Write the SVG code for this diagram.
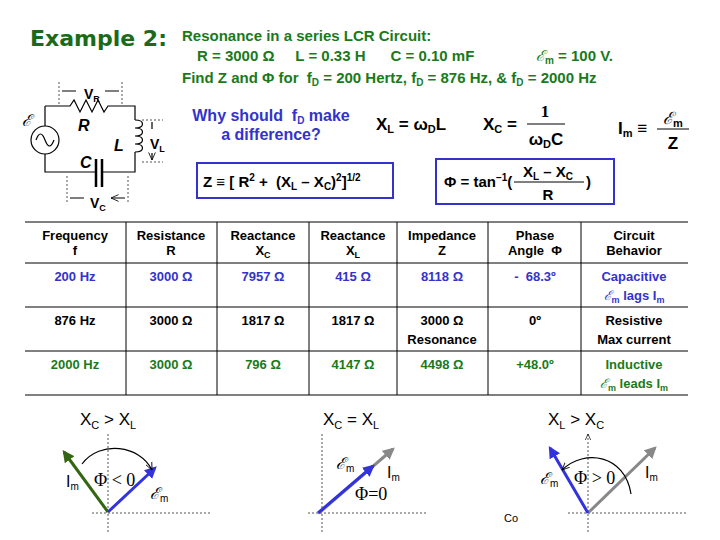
<svg xmlns="http://www.w3.org/2000/svg" width="720" height="540" viewBox="0 0 720 540">
<style>
text{font-family:"Liberation Sans",Arial,sans-serif;font-weight:bold}
.t{font-size:13px;text-anchor:middle}
.b{fill:#3333cc}.g{fill:#1a7a1a}.k{fill:#000}
.ln{stroke:#000;stroke-width:1.2;fill:none}
.d{stroke:#555;stroke-width:1;stroke-dasharray:2,2;fill:none}
.sc{font-family:"DejaVu Serif",serif;font-style:italic;font-weight:normal}
.n{font-weight:normal}
</style>
<defs>
<marker id="ab" viewBox="0 0 10 10" refX="8" refY="5" markerWidth="4" markerHeight="4" orient="auto"><path d="M0,0L10,5L0,10z" fill="#3333dd"/></marker>
<marker id="ag" viewBox="0 0 10 10" refX="8" refY="5" markerWidth="4" markerHeight="4" orient="auto"><path d="M0,0L10,5L0,10z" fill="#336611"/></marker>
<marker id="ay" viewBox="0 0 10 10" refX="8" refY="5" markerWidth="4" markerHeight="4" orient="auto"><path d="M0,0L10,5L0,10z" fill="#888"/></marker>
<marker id="ao" viewBox="0 0 10 10" refX="9" refY="5" markerWidth="7" markerHeight="7" orient="auto"><path d="M0,1L9,5L0,9" fill="none" stroke="#000"/></marker>
</defs>
<rect width="720" height="540" fill="#fff"/>
<text x="30" y="46" font-size="22" fill="#1a6a1a" style="font-family:'DejaVu Sans',sans-serif">Example 2:</text>
<g id="header">
<text x="182" y="41" class="g" font-size="15">Resonance in a series LCR Circuit:</text>
<text x="197" y="61" class="g" font-size="15" xml:space="preserve">R = 3000 Ω     L = 0.33 H      C = 0.10 mF</text>
<text x="536" y="61" class="g" font-size="15"><tspan class="sc">ℰ</tspan><tspan font-size="10" dy="3">m</tspan><tspan dy="-3"> = 100 V.</tspan></text>
<text x="182" y="83" class="g" font-size="15" xml:space="preserve">Find Z and Φ for  f<tspan font-size="10" dy="3">D</tspan><tspan dy="-3"> = 200 Hertz, f</tspan><tspan font-size="10" dy="3">D</tspan><tspan dy="-3"> = 876 Hz, &amp; f</tspan><tspan font-size="10" dy="3">D</tspan><tspan dy="-3"> = 2000 Hz</tspan></text>
</g>
<g id="circuit">
<path class="ln" d="M45,106H70l4,-6l6,12l6,-12l6,12l6,-12l6,12l4,-6H135V120M135,152V172H103M95,172H45V154M45,126V106"/>
<path class="ln" d="M135,120c10,0 10,8 0,8c10,0 10,8 0,8c10,0 10,8 0,8c10,0 10,8 0,8"/>
<circle class="ln" cx="45" cy="140" r="14"/>
<path class="ln" d="M36,140c3,-8 6,-8 9,0s6,8 9,0"/>
<path stroke="#000" stroke-width="2.5" d="M96,159V187M102,159V187"/>
<path class="d" d="M59,82V104M122,82V104M67,176V202M128,176V202M142,120H163M142,162H163"/>
<path class="ln" d="M62,91H76M119,91H105M70,198H84M125,198H111" marker-end="url(#ao)" stroke-width="0.8"/>
<path class="ln" d="M152,129V122M152,153V160" marker-end="url(#ao)" stroke-width="0.8"/>
<text x="84" y="99" font-size="14">V<tspan font-size="9" dy="3">R</tspan></text>
<text x="78" y="131" font-size="16" font-style="italic">R</text>
<text x="114" y="151" font-size="16" font-style="italic">L</text>
<text x="80" y="168" font-size="16" font-style="italic">C</text>
<text x="150" y="149" font-size="14">V<tspan font-size="9" dy="3">L</tspan></text>
<text x="90" y="208" font-size="14">V<tspan font-size="9" dy="3">C</tspan></text>
<text x="22" y="126" font-size="16" class="sc">ℰ</text>
</g>
<g id="formulas">
<text x="271" y="121" font-size="16" class="b" text-anchor="middle" xml:space="preserve">Why should  f<tspan font-size="10" dy="3">D</tspan><tspan dy="-3"> make</tspan></text>
<text x="271" y="140" font-size="16" class="b" text-anchor="middle">a difference?</text>
<text x="376" y="130" font-size="17">X<tspan font-size="11" dy="3">L</tspan><tspan dy="-3"> = ω</tspan><tspan font-size="11" dy="3">D</tspan><tspan dy="-3">L</tspan></text>
<text x="483" y="130" font-size="17">X<tspan font-size="11" dy="3">C</tspan><tspan dy="-3"> =</tspan></text>
<text x="545" y="117" font-size="17" text-anchor="middle" style="font-family:'Liberation Serif',serif">1</text>
<path stroke="#000" d="M527,124H565"/>
<text x="546" y="145" font-size="17" text-anchor="middle">ω<tspan font-size="11" dy="3">D</tspan><tspan dy="-3">C</tspan></text>
<text x="618" y="134" font-size="17">I<tspan font-size="11" dy="3">m</tspan><tspan dy="-3"> ≡</tspan></text>
<text x="673" y="124" font-size="17" text-anchor="middle"><tspan class="sc">ℰ</tspan><tspan font-size="11" dy="3">m</tspan></text>
<path stroke="#000" d="M657,129H689"/>
<text x="673" y="149" font-size="17" text-anchor="middle">Z</text>
<rect x="197" y="163" width="196" height="35" fill="none" stroke="#3333cc" stroke-width="2"/>
<text x="203" y="187" font-size="15" xml:space="preserve">Z ≡ [ R<tspan font-size="10" dy="-6">2</tspan><tspan dy="6"> +  (X</tspan><tspan font-size="10" dy="3">L</tspan><tspan dy="-3"> – X</tspan><tspan font-size="10" dy="3">C</tspan><tspan dy="-3">)</tspan><tspan font-size="10" dy="-6">2</tspan><tspan dy="6">]</tspan><tspan font-size="10" dy="-6">1/2</tspan></text>
<rect x="436" y="159" width="178" height="45" fill="none" stroke="#3333cc" stroke-width="2"/>
<text x="444" y="187" font-size="15">Φ = tan<tspan font-size="10" dy="-6">−1</tspan><tspan dy="6">(</tspan></text>
<text x="548" y="177" font-size="15" text-anchor="middle">X<tspan font-size="10" dy="3">L</tspan><tspan dy="-3"> – X</tspan><tspan font-size="10" dy="3">C</tspan></text>
<path stroke="#000" d="M514,182H584"/>
<text x="548" y="200" font-size="15" text-anchor="middle">R</text>
<text x="586" y="187" font-size="15">)</text>
</g>
<g id="table" class="t">
<path stroke="#000" stroke-width="1" fill="none" d="M25,222H688M25,263H688M25,307H688M25,351H688M25,395H688M126,222V395M217,222V395M309,222V395M397,222V395M488,222V395M581,222V395"/>
<g class="k">
<text x="75" y="240">Frequency</text><text x="75" y="255">f</text>
<text x="171" y="240">Resistance</text><text x="171" y="255">R</text>
<text x="263" y="240">Reactance</text><text x="263" y="255">X<tspan font-size="9" dy="3">C</tspan></text>
<text x="353" y="240">Reactance</text><text x="353" y="255">X<tspan font-size="9" dy="3">L</tspan></text>
<text x="442" y="240">Impedance</text><text x="442" y="255">Z</text>
<text x="535" y="240">Phase</text><text x="535" y="255" xml:space="preserve">Angle  Φ</text>
<text x="634" y="240">Circuit</text><text x="634" y="255">Behavior</text>
</g>
<g class="b">
<text x="75" y="281">200 Hz</text><text x="171" y="281">3000 Ω</text><text x="263" y="281">7957 Ω</text><text x="353" y="281">415 Ω</text><text x="442" y="281">8118 Ω</text><text x="535" y="281" xml:space="preserve">-  68.3º</text><text x="634" y="281">Capacitive</text>
<text x="634" y="300"><tspan class="sc">ℰ</tspan><tspan font-size="9" dy="3">m</tspan><tspan dy="-3"> lags I</tspan><tspan font-size="9" dy="3">m</tspan></text>
</g>
<g class="k">
<text x="75" y="325">876 Hz</text><text x="171" y="325">3000 Ω</text><text x="263" y="325">1817 Ω</text><text x="353" y="325">1817 Ω</text><text x="442" y="325">3000 Ω</text><text x="442" y="344">Resonance</text><text x="535" y="325">0º</text><text x="634" y="325">Resistive</text><text x="634" y="344">Max current</text>
</g>
<g class="g">
<text x="75" y="369">2000 Hz</text><text x="171" y="369">3000 Ω</text><text x="263" y="369">796 Ω</text><text x="353" y="369">4147 Ω</text><text x="442" y="369">4498 Ω</text><text x="535" y="369">+48.0º</text><text x="634" y="369">Inductive</text>
<text x="634" y="388"><tspan class="sc">ℰ</tspan><tspan font-size="9" dy="3">m</tspan><tspan dy="-3"> leads I</tspan><tspan font-size="9" dy="3">m</tspan></text>
</g>
</g>
<g id="phasors" font-size="17">
<text x="80" y="425" class="n">X<tspan font-size="11" dy="4">C</tspan><tspan dy="-4"> &gt; X</tspan><tspan font-size="11" dy="4">L</tspan></text>
<text x="323" y="425" class="n">X<tspan font-size="11" dy="4">C</tspan><tspan dy="-4"> = X</tspan><tspan font-size="11" dy="4">L</tspan></text>
<text x="548" y="425" class="n">X<tspan font-size="11" dy="4">L</tspan><tspan dy="-4"> &gt; X</tspan><tspan font-size="11" dy="4">C</tspan></text>
<path class="d" d="M92,513H212M108,532V434M308,513H428M322,532V434M568,513H688M588,532V434" marker-end="url(#ao)" stroke="#666"/>
<path stroke="#336611" stroke-width="3" d="M108,512L64,452" marker-end="url(#ag)"/>
<path stroke="#3333dd" stroke-width="3" d="M108,512L155,468" marker-end="url(#ab)"/>
<path class="ln" stroke-width="0.8" d="M82,464C100,440 140,445 152,470" marker-end="url(#ao)"/>
<text x="66" y="487" font-size="16" class="n">I<tspan font-size="10" dy="3">m</tspan></text>
<text x="94" y="486" font-size="18" class="n" style="font-family:'Liberation Serif',serif">Φ &lt; 0</text>
<text x="150" y="499" font-size="16" class="n"><tspan class="sc">ℰ</tspan><tspan font-size="10" dy="3">m</tspan></text>
<path stroke="#888" stroke-width="3" d="M319,513L393,449" marker-end="url(#ay)"/>
<path stroke="#3333dd" stroke-width="3" d="M318,513L373,466" marker-end="url(#ab)"/>
<text x="336" y="469" font-size="16" class="n"><tspan class="sc">ℰ</tspan><tspan font-size="10" dy="3">m</tspan></text>
<text x="387" y="478" font-size="16" class="n">I<tspan font-size="10" dy="3">m</tspan></text>
<text x="355" y="500" font-size="18" class="n" style="font-family:'Liberation Serif',serif">Φ=0</text>
<path stroke="#888" stroke-width="3" d="M588,513L655,448" marker-end="url(#ay)"/>
<path stroke="#3333dd" stroke-width="3" d="M588,513L550,448" marker-end="url(#ab)"/>
<path class="ln" stroke-width="0.8" d="M631,494C625,455 585,448 562,470" marker-end="url(#ao)"/>
<text x="540" y="484" font-size="16" class="n"><tspan class="sc">ℰ</tspan><tspan font-size="10" dy="3">m</tspan></text>
<text x="574" y="484" font-size="18" class="n" style="font-family:'Liberation Serif',serif">Φ &gt; 0</text>
<text x="645" y="478" font-size="16" class="n">I<tspan font-size="10" dy="3">m</tspan></text>
<text x="504" y="522" font-size="11" class="n">Co</text>
</g>
</svg>
